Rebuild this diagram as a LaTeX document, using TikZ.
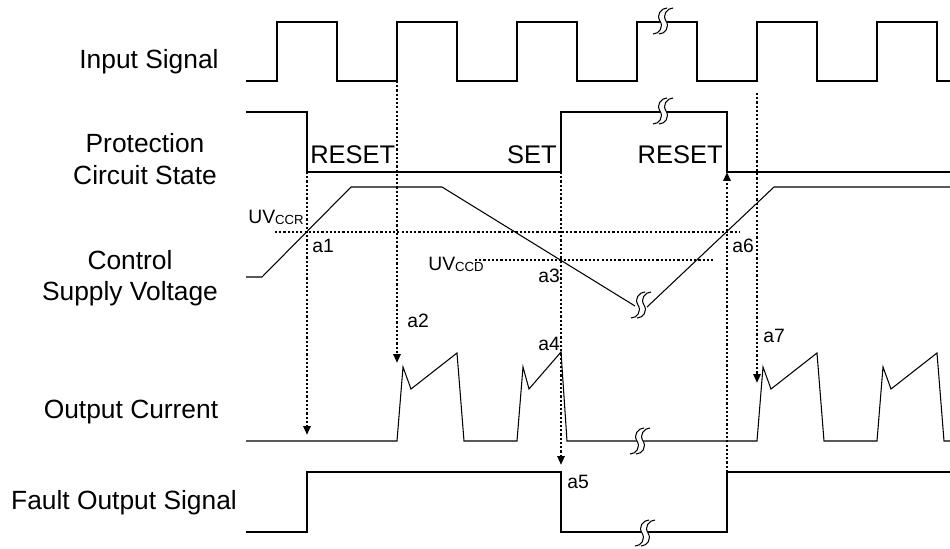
\documentclass[tikz,border=0pt]{standalone}
\usepackage{fontspec}
\setmainfont{Liberation Sans}
\usetikzlibrary{arrows.meta}
\newcommand\uvsub[1]{\raisebox{-1pt}{\fontsize{7.5}{8}\selectfont #1}}

\begin{document}
\begin{tikzpicture}[
    x=.02cm,y=-.02cm,
    wave/.style={line width=.65pt},
    slope/.style={line width=.6pt},
    probe/.style={line width=1.25pt,dash pattern=on 1.25pt off 1.15pt,
        -{Triangle[width=4pt,length=5pt]}},
    threshold/.style={line width=1.25pt,dash pattern=on 1.25pt off 1.15pt},
    row label/.style={font=\fontsize{15}{18}\selectfont,align=center,inner sep=0pt},
    phase label/.style={font=\fontsize{14.5}{17}\selectfont,inner sep=0pt},
    mark label/.style={font=\fontsize{11}{13}\selectfont,inner sep=0pt,anchor=base west},
    brk/.pic={
        \draw[white,line width=3.4pt] (-7,13) .. controls (-1,13) and (4,6) .. (0,0)
            .. controls (-4,-6) and (1,-13) .. (7,-13);
        \foreach \dx in {-3,3}
            \draw[line width=.6pt,shift={(\dx,0)}] (-7,13) .. controls (-1,13) and (4,6) .. (0,0)
                .. controls (-4,-6) and (1,-13) .. (7,-13);
    }
]
    \useasboundingbox (0,0) rectangle (950,548);

    % Row names down the left side.
    \node[row label] (in lbl) at (149,62) {Input Signal};
    \node[row label] (pcs lbl) at (145,159) {Protection\\Circuit State};
    \node[row label] (csv lbl) at (130,278) {Control\\Supply Voltage};
    \node[row label] (out lbl) at (131,412) {Output Current};
    \node[row label] (flt lbl) at (124,503) {Fault Output Signal};

    % Input pulses, one period is 120 px.
    \draw[wave] (246,81) \foreach \r in {277,397,517,637,757,877} {
        -- (\r,81) -- (\r,22) -- ({\r+60},22) -- ({\r+60},81)} -- (950,81);

    % Protection circuit state.
    \draw[wave] (246,112) -- (307,112) -- (307,172) -- (561,172) -- (561,112)
        -- (727,112) -- (727,172) -- (950,172);
    \node[phase label,anchor=base west] (reset a) at (310,163) {RESET};
    \node[phase label,anchor=base east] (set) at (557,163) {SET};
    \node[phase label,anchor=base east] (reset b) at (723,163) {RESET};

    % Control supply voltage.
    \draw[slope] (246,277) -- (262,277) -- (351,187) -- (442,187) -- (635,306);
    \draw[slope] (647,307) -- (774,187) -- (950,187);

    % Output current.
    \draw[slope] (246,441) -- (397,441) -- ++(6,-74) -- ++(8,22) -- ++(46,-36) -- ++(7,88)
        -- (517,441) -- ++(6,-74) -- ++(6,22) -- (561,352) -- (567,441)
        \foreach \r in {757,877} {
            -- (\r,441) -- ++(6,-74) -- ++(8,22) -- ++(46,-36) -- ++(7,88)} -- (950,441);

    % Fault output.
    \draw[wave] (246,532) -- (307,532) -- (307,472) -- (561,472) -- (561,532)
        -- (727,532) -- (727,472) -- (950,472);

    % Break marks.
    \foreach \x/\y in {663/21,663/111,641/305,640/441,645/533}
        \pic at (\x,\y) {brk};

    % UV thresholds.
    \coordinate (uvr from) at (275,232);
    \coordinate (uvr to) at (740,232);
    \coordinate (uvd from) at (475,260);
    \coordinate (uvd to) at (715,260);
    \draw[threshold] (uvr from) -- (uvr to);
    \draw[threshold] (uvd from) -- (uvd to);
    \node[mark label] (uvr) at (248,223) {UV\uvsub{CCR}};
    \node[mark label] (uvd) at (428,270) {UV\uvsub{CCD}};

    % Cause -> effect arrows.
    \foreach \nm/\x/\ya/\yb in {a1/307/172/435,a2/397/81/363,a3/561/172/465,
            a6/727/472/172,a7/757/93/383} {
        \coordinate (\nm from) at (\x,\ya);
        \coordinate (\nm to) at (\x,\yb);
        \draw[probe] (\nm from) -- (\nm to);
    }

    \foreach \nm/\x/\y in {a1/312/252,a2/407/327,a3/538/282,a4/538/350,
            a5/567/488,a6/732/252,a7/763/342}
        \node[mark label] (\nm) at (\x,\y) {\nm};
\end{tikzpicture}
\end{document}
